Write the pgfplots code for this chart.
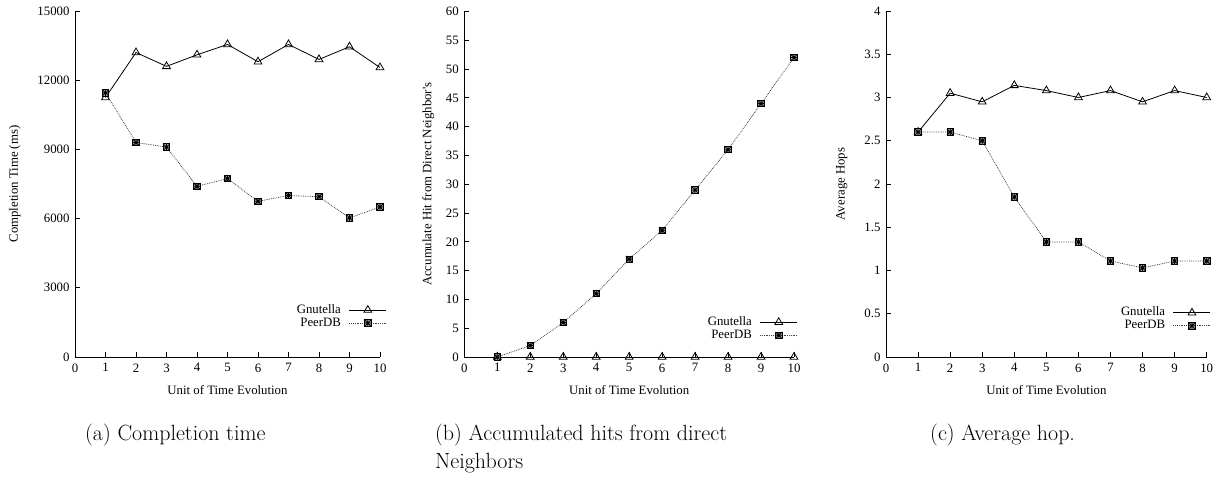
\documentclass[border=0pt]{standalone}
\usepackage{fontspec}
\usepackage{pgfplots}
\pgfplotsset{compat=1.18}
\newfontfamily\gp{Liberation Serif}
\newcommand\gpf{\gp\fontsize{12.8}{15}\selectfont}
\newcommand\capf{\fontsize{22}{28}\selectfont\addfontfeatures{LetterSpace=5}}

\pgfdeclareplotmark{boxstar}{%
  \pgfsetfillcolor{black!35}%
  \pgfpathrectangle{\pgfpoint{-\pgfplotmarksize}{-\pgfplotmarksize}}{\pgfpoint{2\pgfplotmarksize}{2\pgfplotmarksize}}%
  \pgfusepathqfillstroke
  \pgfpathmoveto{\pgfpoint{-\pgfplotmarksize}{0pt}}\pgfpathlineto{\pgfpoint{\pgfplotmarksize}{0pt}}%
  \pgfpathmoveto{\pgfpoint{0pt}{-\pgfplotmarksize}}\pgfpathlineto{\pgfpoint{0pt}{\pgfplotmarksize}}%
  \pgfpathmoveto{\pgfpoint{-\pgfplotmarksize}{-\pgfplotmarksize}}\pgfpathlineto{\pgfpoint{\pgfplotmarksize}{\pgfplotmarksize}}%
  \pgfpathmoveto{\pgfpoint{-\pgfplotmarksize}{\pgfplotmarksize}}\pgfpathlineto{\pgfpoint{\pgfplotmarksize}{-\pgfplotmarksize}}%
  \pgfusepathqstroke}

\pgfplotsset{gpstyle/.style={
  scale only axis,
  axis lines=left, axis line style={-, line width=0.9pt},
  tick align=inside, major tick length=5pt,
  every tick/.style={black, line width=0.9pt},
  xmin=0, xmax=10, xtick={0,...,10},
  scaled y ticks=false, scaled x ticks=false,
  tick label style={font=\gpf},
  /pgf/number format/assume math mode=true,
  /pgf/number format/1000 sep={},
  label style={font=\gpf},
  xlabel={Unit of Time Evolution},
  xlabel style={at={(axis description cs:0.5,-0.0954)}, anchor=center},
  yticklabel style={xshift=-2pt},
  xticklabel style={yshift=-3pt},
  legend cell align=right, legend plot pos=right,
  legend style={draw=none, fill=none, font=\gpf, inner sep=0pt, outer sep=0pt,
    row sep=1pt, column sep=8pt, anchor=north east,
    nodes={inner sep=0pt, text height=9pt, text depth=3pt}},
  legend image code/.code={\draw[mark repeat=2, mark phase=2, #1] plot coordinates {(0pt,0pt) (18.5pt,0pt) (37pt,0pt)};},
  clip=false,
  gnut/.style={black, line width=0.8pt, mark=triangle, mark size=4.5pt, mark options={solid, line width=0.8pt}},
  peer/.style={black!75, densely dotted, line width=0.8pt, mark=boxstar, mark size=3.2pt, mark options={solid, black, line width=0.8pt}},
}}

\begin{document}
\begin{tikzpicture}[x=1pt,y=1pt]
\useasboundingbox (0,0) rectangle (1226,484);

% (a)
\begin{axis}[gpstyle, at={(75pt,127pt)}, anchor=south west,
  width=305pt, height=346pt,
  ymin=0, ymax=15000, ytick={0,3000,6000,9000,12000,15000},
  ylabel={Completion Time (ms)},
  ylabel style={at={(axis description cs:-0.197,0.5)}, anchor=center},
  legend style={at={(axis description cs:1.022,0.153)}}]
\addplot[gnut] coordinates {(1,11250) (2,13200) (3,12600) (4,13100) (5,13550) (6,12800) (7,13550) (8,12900) (9,13450) (10,12550)};
\addlegendentry{Gnutella}
\addplot[peer] coordinates {(1,11450) (2,9300) (3,9100) (4,7400) (5,7730) (6,6750) (7,7000) (8,6950) (9,6030) (10,6500)};
\addlegendentry{PeerDB}
\end{axis}

% (b)
\begin{axis}[gpstyle, at={(464.3pt,127pt)}, anchor=south west,
  width=329.7pt, height=345.5pt,
  ymin=0, ymax=60, ytick={0,5,...,60},
  ylabel={Accumulate Hit from Direct Neighbor's},
  ylabel style={at={(axis description cs:-0.109,0.5)}, anchor=center},
  legend style={at={(axis description cs:1.011,0.118)}}]
\addplot[gnut] coordinates {(1,0) (2,0) (3,0) (4,0) (5,0) (6,0) (7,0) (8,0) (9,0) (10,0)};
\addlegendentry{Gnutella}
\addplot[peer] coordinates {(1,0) (2,2) (3,6) (4,11) (5,17) (6,22) (7,29) (8,36) (9,44) (10,52)};
\addlegendentry{PeerDB}
\end{axis}

% (c)
\begin{axis}[gpstyle, at={(886pt,127pt)}, anchor=south west,
  width=320.7pt, height=346pt,
  ymin=0, ymax=4, ytick={0,0.5,...,4},
  ylabel={Average Hops},
  ylabel style={at={(axis description cs:-0.138,0.5)}, anchor=center},
  legend style={at={(axis description cs:1.013,0.145)}}]
\addplot[gnut] coordinates {(1,2.6) (2,3.05) (3,2.95) (4,3.14) (5,3.08) (6,3.0) (7,3.08) (8,2.95) (9,3.08) (10,3.0)};
\addlegendentry{Gnutella}
\addplot[peer] coordinates {(1,2.6) (2,2.6) (3,2.5) (4,1.85) (5,1.33) (6,1.33) (7,1.11) (8,1.03) (9,1.11) (10,1.11)};
\addlegendentry{PeerDB}
\end{axis}

\node[anchor=base west, font=\capf, inner sep=0pt] at (85,43) {(a) Completion time};
\node[anchor=base west, font=\capf, inner sep=0pt] at (435,43) {(b) Accumulated hits from direct};
\node[anchor=base west, font=\capf, inner sep=0pt] at (435,15) {Neighbors};
\node[anchor=base west, font=\capf, inner sep=0pt] at (930,43) {(c) Average hop.};
\end{tikzpicture}
\end{document}
